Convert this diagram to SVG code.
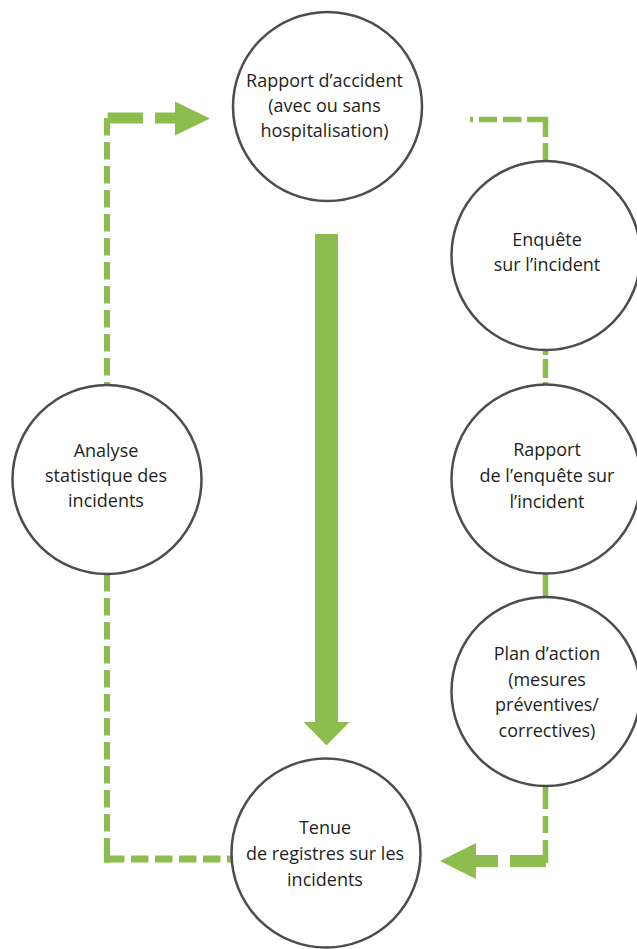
<svg xmlns="http://www.w3.org/2000/svg" width="637" height="949" viewBox="0 0 637 949">
<style>
.bg{fill:#ffffff}
.node circle{fill:#ffffff;stroke:#4d4d4d;stroke-width:2.5}
.node text{font-family:"Open Sans","Liberation Sans",sans-serif;font-size:18px;fill:#231f20;text-anchor:middle}
.conn path{fill:none;stroke:#8dbd4f;stroke-linecap:butt}
.conn polygon{fill:#8dbd4f}
</style>
<rect class="bg" x="0" y="0" width="637" height="949"/>
<g id="connectors" class="conn">
  <!-- left loop: Tenue -> Analyse -> Rapport d'accident -->
  <path stroke-width="7" d="M104,859H124.5M131,859H148.5M155,859H172.5M179,859H196.5M203,859H220.5M227,859H231"/>
  <path stroke-width="6" d="M107,572V591.5M107,598V615.5M107,622V639.5M107,646V663.5M107,670V687.5M107,694V711.5M107,718V735.5M107,742V759.5M107,766V783.5M107,790V807.5M107,814V831.5M107,838V862.5"/>
  <path stroke-width="6" stroke-dasharray="17.5 6.5" d="M107,118V388"/>
  <path stroke-width="11" d="M107.7,118H143"/>
  <polygon points="155,112.5 175,112.5 175,101.5 210,118.5 175,135.5 175,123.5 155,123.5"/>
  <!-- right chain: Rapport d'accident -> Enquête -> Rapport -> Plan -> Tenue -->
  <path stroke-width="5.5" d="M470,119.5H473M479,119.5H497M503,119.5H521.5M527,119.5H548.2"/>
  <path stroke-width="5.5" d="M545.5,119.5V137M545.5,143V163M545.5,349V355M545.5,359V378M545.5,382V387M545.5,572V598M545.5,786V809M545.5,816V833M545.5,840V863"/>
  <path stroke-width="12" d="M510,861H546"/>
  <polygon points="498,855 476,855 476,843 440,861 476,879 476,867 498,867"/>
  <!-- central arrow -->
  <polygon points="315,234 338,234 338,722 349.5,722 326.5,745.5 303.5,722 315,722"/>
</g>
<g id="node-rapport-accident" class="node">
  <circle cx="327.5" cy="106.5" r="94.5"/>
  <text x="324.5" y="87.3">Rapport d’accident</text>
  <text x="324.5" y="112">(avec ou sans</text>
  <text x="324.5" y="136.7">hospitalisation)</text>
</g>
<g id="node-enquete" class="node">
  <circle cx="546" cy="255.5" r="94.5"/>
  <text x="547" y="246">Enquête</text>
  <text x="547" y="270.5">sur l’incident</text>
</g>
<g id="node-rapport-enquete" class="node">
  <circle cx="546" cy="479" r="94.5"/>
  <text x="547" y="456">Rapport</text>
  <text x="547" y="481.7">de l’enquête sur</text>
  <text x="547" y="507.5">l’incident</text>
</g>
<g id="node-plan-action" class="node">
  <circle cx="546" cy="691.5" r="94.5"/>
  <text x="547" y="660">Plan d’action</text>
  <text x="547" y="685.5">(mesures</text>
  <text x="547" y="711">préventives/</text>
  <text x="547" y="736.5">correctives)</text>
</g>
<g id="node-analyse" class="node">
  <circle cx="107" cy="479.5" r="94.5"/>
  <text x="106" y="456.7">Analyse</text>
  <text x="106" y="481.7">statistique des</text>
  <text x="106" y="506.7">incidents</text>
</g>
<g id="node-tenue" class="node">
  <circle cx="326" cy="853" r="94.5"/>
  <text x="325" y="834">Tenue</text>
  <text x="325" y="860">de registres sur les</text>
  <text x="325" y="885.5">incidents</text>
</g>
</svg>
